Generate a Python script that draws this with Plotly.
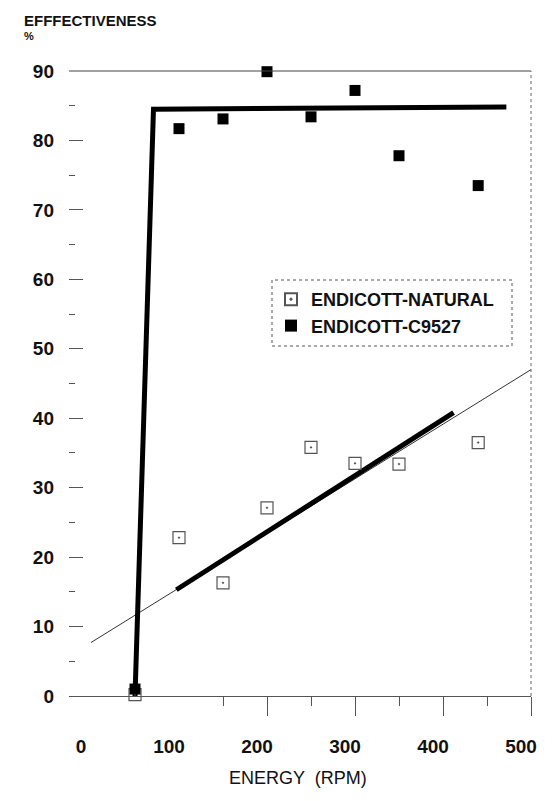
import plotly.graph_objects as go

# ---- data ----
energy_rpm = [50, 100, 150, 200, 250, 300, 350, 440]
natural_eff = [0.2, 22.8, 16.3, 27.1, 35.8, 33.5, 33.4, 36.5]
c9527_eff = [1.0, 81.7, 83.1, 89.9, 83.4, 87.2, 77.8, 73.5]

# fitted lines as drawn on the chart
c9527_fit_x = [50, 71, 472]
c9527_fit_y = [0.0, 84.5, 84.8]
natural_trend_x = [0, 500]
natural_trend_y = [7.7, 47.0]
natural_fit_x = [97, 412]
natural_fit_y = [15.3, 40.8]

x_tick_vals = [0, 100, 200, 300, 400, 500]
x_tick_text = ["0", "100", "200", "300", "400", "500"]
x_major_marks = [200, 300, 400, 500]
x_minor_marks = [150, 250, 350, 450]

FONT = "Liberation Sans"
INK = "#111111"

fig = go.Figure()

fig.add_trace(go.Scatter(x=natural_trend_x, y=natural_trend_y, mode="lines",
                         line=dict(color="#333333", width=1), showlegend=False,
                         hoverinfo="skip"))
fig.add_trace(go.Scatter(x=natural_fit_x, y=natural_fit_y, mode="lines",
                         line=dict(color="#000000", width=5), showlegend=False,
                         hoverinfo="skip"))
fig.add_trace(go.Scatter(x=c9527_fit_x, y=c9527_fit_y, mode="lines",
                         line=dict(color="#000000", width=5), showlegend=False,
                         hoverinfo="skip"))

fig.add_trace(go.Scatter(x=energy_rpm, y=natural_eff, mode="markers",
                         name="ENDICOTT-NATURAL", cliponaxis=False,
                         marker=dict(symbol="square-open-dot", size=12,
                                     color="#555555", line=dict(width=1.2))))
fig.add_trace(go.Scatter(x=energy_rpm, y=c9527_eff, mode="markers",
                         name="ENDICOTT-C9527", cliponaxis=False,
                         marker=dict(symbol="square", size=11, color="#000000")))

# invisible trace to carry the secondary (tick-mark only) x axis
fig.add_trace(go.Scatter(x=energy_rpm, y=natural_eff, xaxis="x2", mode="markers",
                         marker=dict(opacity=0), showlegend=False, hoverinfo="skip"))

L, R, T, B = 61, 36, 63, 113
W, H = 559, 801
pw, ph = W - L - R, H - T - B

def px(xp):
    return (xp - L) / pw

def py(yp):
    return (H - B - yp) / ph

fig.update_layout(
    width=W, height=H,
    margin=dict(l=L, r=R, t=T, b=B),
    paper_bgcolor="white", plot_bgcolor="white",
    font=dict(family=FONT, color=INK, size=17),
    showlegend=True,
    legend=dict(x=px(263), y=py(273), xanchor="left", yanchor="top",
                bgcolor="rgba(0,0,0,0)", borderwidth=0,
                font=dict(family=FONT, size=18, color=INK, weight="bold"),
                tracegroupgap=0, itemsizing="constant"),
    xaxis=dict(range=[-25, 500], showgrid=False, zeroline=False,
               showline=True, linecolor="#555555", linewidth=1,
               ticks="", tickvals=x_tick_vals, ticktext=x_tick_text,
               ticklabelstandoff=33, ticklabelshift=-10,
               tickfont=dict(size=19, color=INK, weight="bold")),
    xaxis2=dict(range=[-25, 500], overlaying="x", anchor="y", side="bottom",
                showgrid=False, zeroline=False, showline=False,
                showticklabels=False, ticks="outside", tickvals=x_major_marks,
                ticklen=19, tickcolor="#555555", tickwidth=1,
                minor=dict(tickvals=x_minor_marks, ticks="outside", ticklen=9,
                           tickcolor="#555555", tickwidth=1)),
    yaxis=dict(range=[0, 90], showgrid=False, zeroline=False, showline=False,
               ticks="inside", dtick=10, ticklen=14, tickcolor="#555555",
               tickwidth=1, ticklabelstandoff=14,
               tickfont=dict(size=19, color=INK, weight="bold"),
               minor=dict(dtick=5, ticks="inside", ticklen=6,
                          tickcolor="#555555", tickwidth=1)),
    shapes=[
        dict(type="line", xref="paper", yref="paper", x0=0, x1=1, y0=1, y1=1,
             line=dict(color="#444444", width=1)),
        dict(type="line", xref="paper", yref="paper", x0=1, x1=1, y0=0, y1=1,
             line=dict(color="#666666", width=1, dash="dot")),
        dict(type="rect", xref="paper", yref="paper",
             x0=px(264), x1=px(504), y0=py(338), y1=py(272),
             line=dict(color="#555555", width=1, dash="dot")),
    ],
    annotations=[
        dict(text="EFFFECTIVENESS", xref="paper", yref="paper",
             x=px(14), y=py(13), xanchor="left", yanchor="middle",
             showarrow=False,
             font=dict(family=FONT, size=15, color=INK, weight="bold")),
        dict(text="%", xref="paper", yref="paper",
             x=px(14), y=py(28), xanchor="left", yanchor="middle",
             showarrow=False,
             font=dict(family=FONT, size=11, color=INK, weight="bold")),
        dict(text="ENERGY  (RPM)", xref="paper", yref="paper",
             x=px(290), y=py(770), xanchor="center", yanchor="middle",
             showarrow=False, font=dict(family=FONT, size=18, color=INK)),
    ],
)

fig.write_html("out.html")
